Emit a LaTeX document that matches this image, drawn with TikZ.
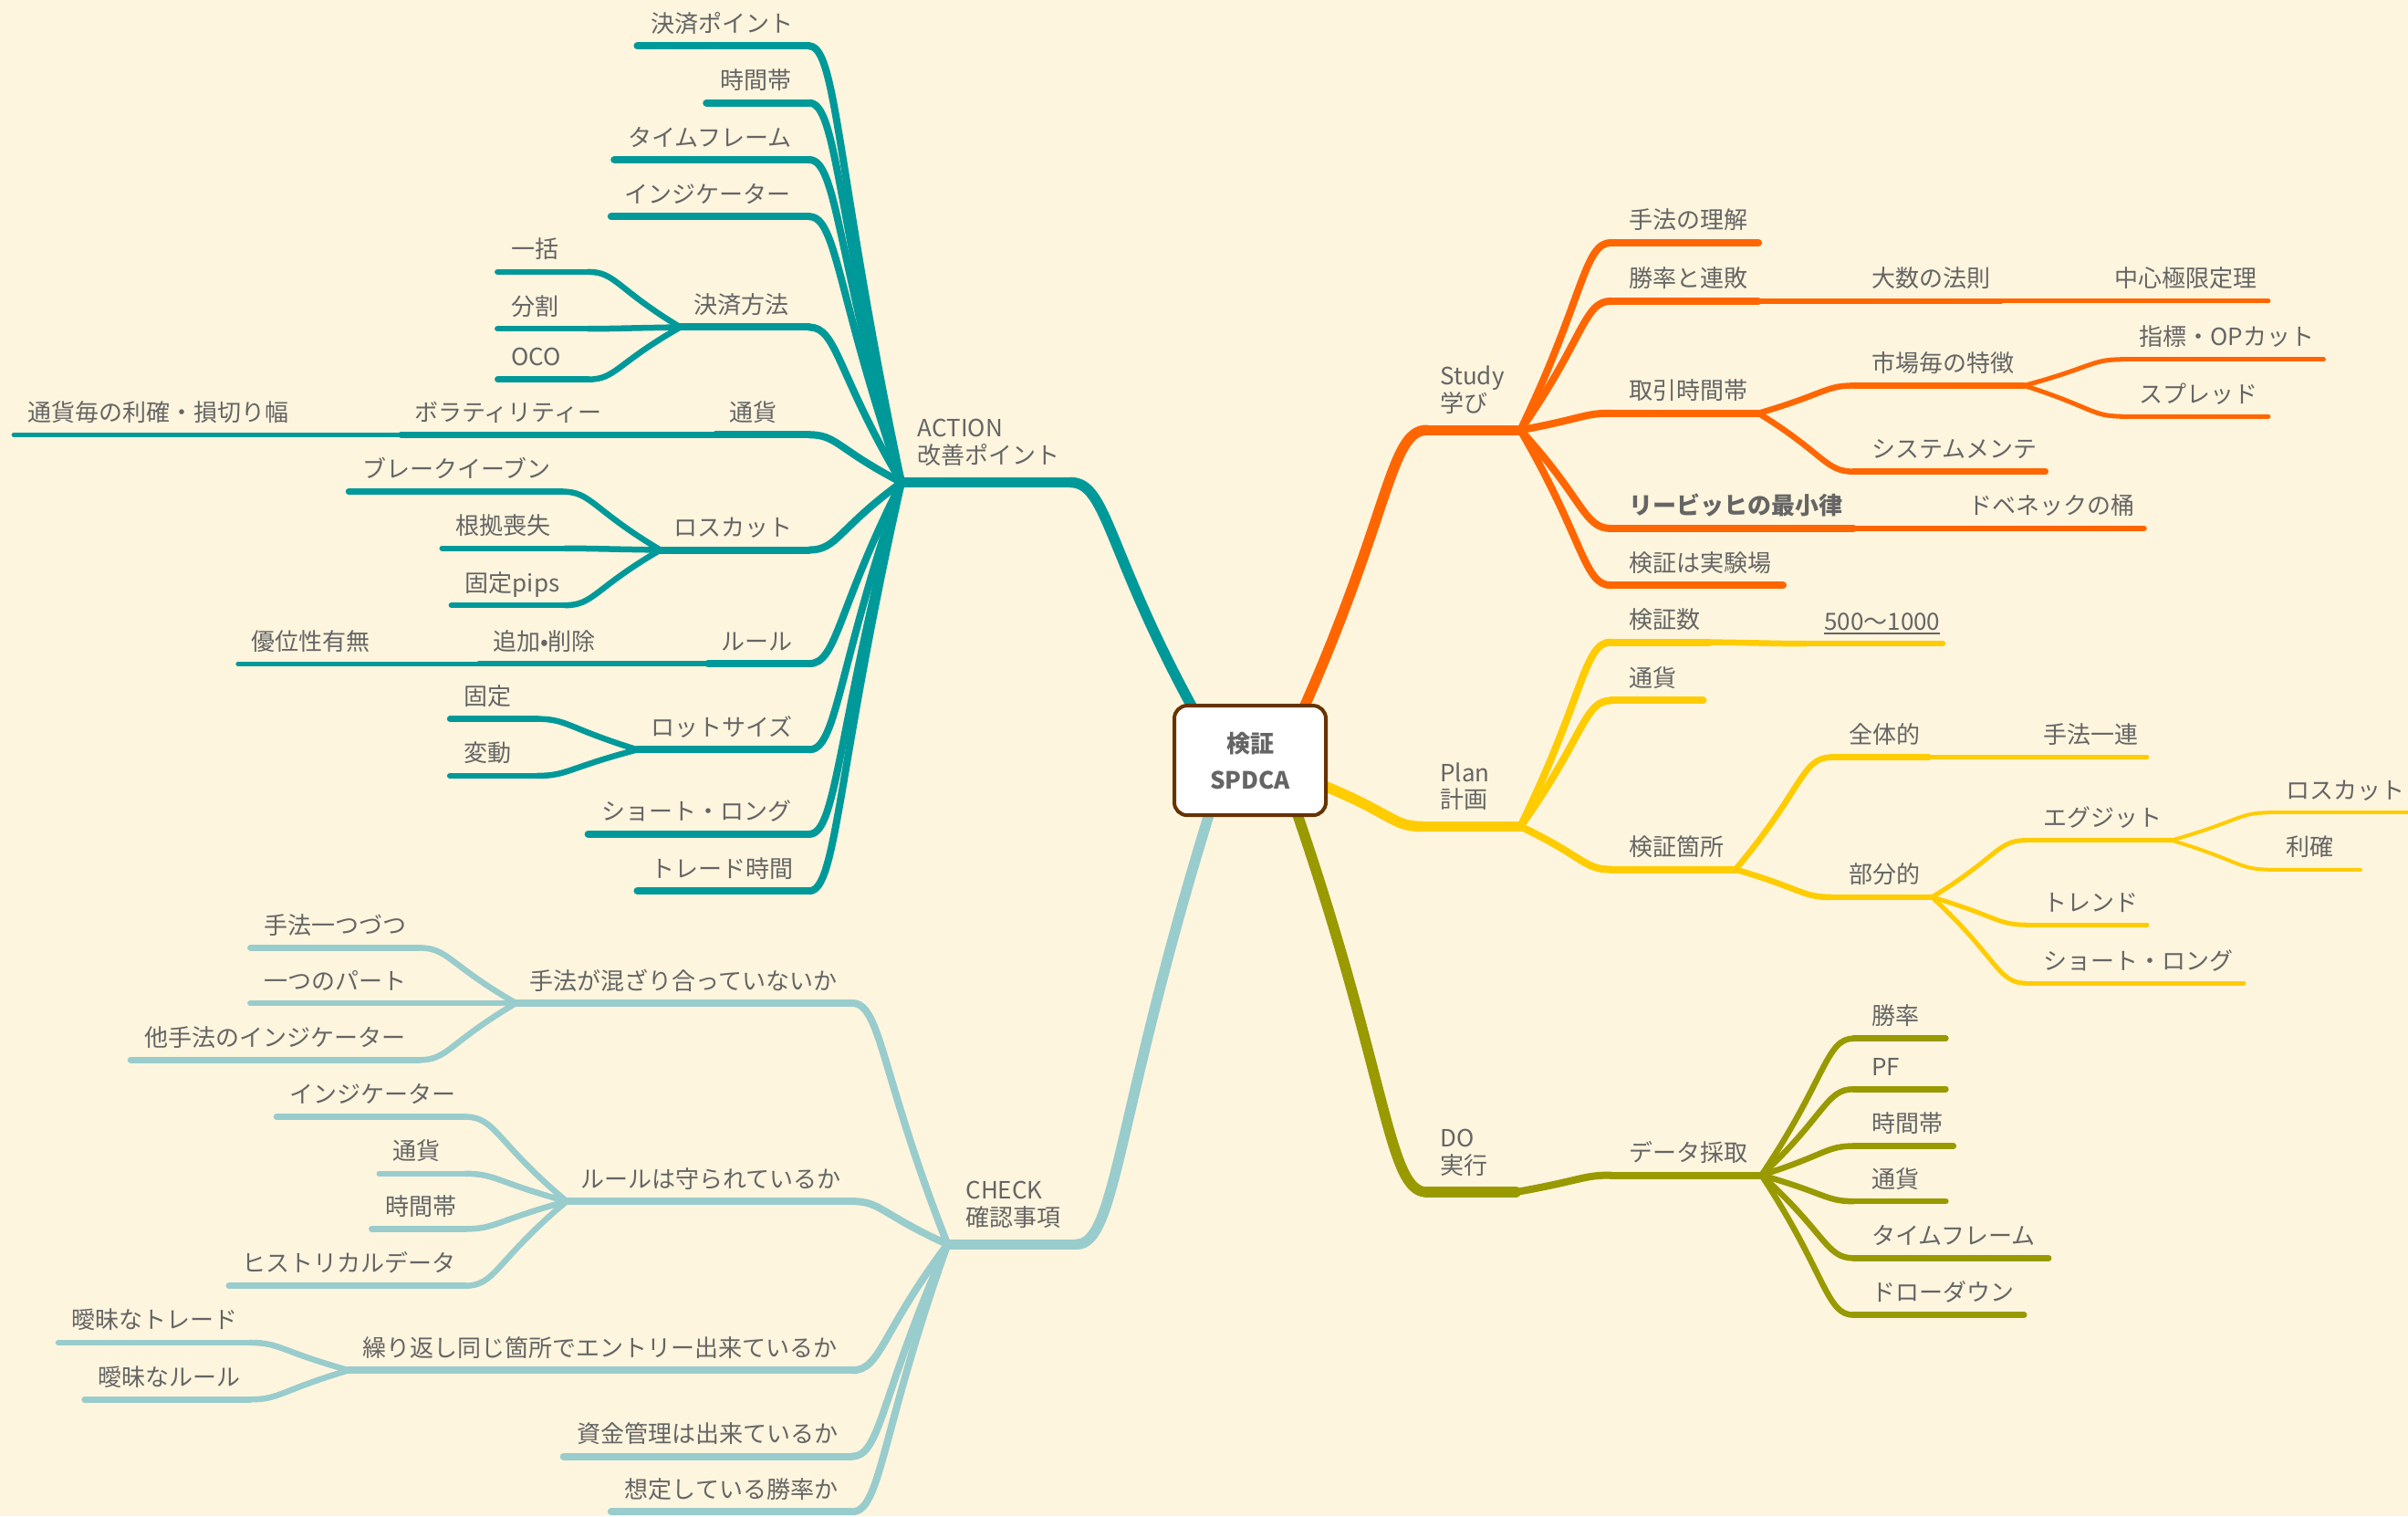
\documentclass[tikz,border=0pt]{standalone}
\usepackage{fontspec}
\setmainfont{Noto Sans CJK JP}
\usetikzlibrary{calc}
\definecolor{bgc}{HTML}{FEF5DE}
\definecolor{txt}{HTML}{656565}
\definecolor{cA}{HTML}{009999}
\definecolor{cS}{HTML}{FF6600}
\definecolor{cP}{HTML}{FFCC00}
\definecolor{cD}{HTML}{999900}
\definecolor{cC}{HTML}{99CCCC}
\definecolor{cB}{HTML}{663300}
\pgfdeclarelayer{bg}
\pgfdeclarelayer{lines}
\pgfsetlayers{bg,lines,main}
\tikzset{
  mm/.style={anchor=south west, inner xsep=0pt, inner ysep=15pt, outer sep=0pt,
    text depth=0pt, text=txt, font=\fontsize{26}{27}\selectfont},
  mmtrunk/.style={mm, inner ysep=19.5pt},
  ln/.style={line cap=round, line join=round},
  w1/.style={ln, line width=11.5pt},
  w2/.style={ln, line width=8pt},
  w3/.style={ln, line width=6.5pt},
  w4/.style={ln, line width=5pt},
  w5/.style={ln, line width=4pt},
  kA/.style={draw=cA}, kS/.style={draw=cS}, kP/.style={draw=cP},
  kD/.style={draw=cD}, kC/.style={draw=cC},
  hub/.style={draw=cB, line width=4pt, fill=white, rounded corners=14pt,
    minimum width=166pt, minimum height=120pt, inner sep=0pt, outer sep=0pt, align=center,
    text=txt, font=\bfseries\fontsize{26}{40}\selectfont}
}
\newcommand\mmc[3]{\draw[#1] let \p1=(#2), \p2=(#3) in (\p1) .. controls ({\x1+0.7*(\x2-(\x1))},{\y1+0.7*(\y2-(\y1))}) and ({\x1+0.7*(\x2-(\x1))},{\y2}) .. (\p2);}
% right-side node: name, parent, x1, x2, y, style, text
\newcommand\RN[7]{%
  \pgfmathsetmacro\mmW{(#4-#3)*1.683}%
  \node[mm] (#1) at (#3,#5) {\makebox[\mmW pt][l]{\kern20pt #7}};%
  \begin{pgfonlayer}{lines}%
    \mmc{#6}{#2.south east}{#1.south west}%
    \draw[#6] (#1.south west) -- (#1.south east);%
  \end{pgfonlayer}}
% left-side node
\newcommand\LN[7]{%
  \pgfmathsetmacro\mmW{(#4-#3)*1.683}%
  \node[mm] (#1) at (#3,#5) {\makebox[\mmW pt][l]{\kern15pt #7}};%
  \begin{pgfonlayer}{lines}%
    \mmc{#6}{#2.south west}{#1.south east}%
    \draw[#6] (#1.south west) -- (#1.south east);%
  \end{pgfonlayer}}
\newcommand\ulnum[1]{\setbox0\hbox{#1}\rlap{\rule[-5pt]{\wd0}{1.8pt}}\box0}
\begin{document}
\begin{tikzpicture}[x=1.683pt, y=-1.683pt]
\useasboundingbox (0,0) rectangle (1568,987);
\begin{pgfonlayer}{bg}
  \fill[bgc] (0,0) rectangle (1568,987);
\end{pgfonlayer}

\node[hub] (center) at (814,495) {検証\\SPDCA};

% ---------- trunks ----------
\pgfmathsetmacro\mmW{(990-929)*1.683}
\node[mmtrunk] (study) at (929,280) {\makebox[\mmW pt][l]{\kern15pt\begin{tabular}[b]{@{}l@{}}Study\\学び\end{tabular}}};
\pgfmathsetmacro\mmW{(990-926)*1.683}
\node[mmtrunk] (plan) at (926,538) {\makebox[\mmW pt][l]{\kern20pt\begin{tabular}[b]{@{}l@{}}Plan\\計画\end{tabular}}};
\pgfmathsetmacro\mmW{(987-929)*1.683}
\node[mmtrunk] (do) at (929,776) {\makebox[\mmW pt][l]{\kern15pt\begin{tabular}[b]{@{}l@{}}DO\\実行\end{tabular}}};
\pgfmathsetmacro\mmW{(697-587)*1.683}
\node[mmtrunk] (action) at (587,314) {\makebox[\mmW pt][l]{\kern18pt\begin{tabular}[b]{@{}l@{}}ACTION\\改善ポイント\end{tabular}}};
\pgfmathsetmacro\mmW{(701-617)*1.683}
\node[mmtrunk] (check) at (617,810) {\makebox[\mmW pt][l]{\kern20pt\begin{tabular}[b]{@{}l@{}}CHECK\\確認事項\end{tabular}}};
\begin{pgfonlayer}{lines}
  \mmc{kS,w1}{center.45}{study.south west}
  \draw[kS,w1] (study.south west) -- (study.south east);
  \mmc{kP,w1}{center.-19}{plan.south west}
  \draw[kP,w1] (plan.south west) -- (plan.south east);
  \mmc{kD,w1}{center.-49}{do.south west}
  \draw[kD,w1] (do.south west) -- (do.south east);
  \mmc{kA,w1}{center.137}{action.south east}
  \draw[kA,w1] (action.south west) -- (action.south east);
  \mmc{kC,w1}{center.-127}{check.south east}
  \draw[kC,w1] (check.south west) -- (check.south east);
\end{pgfonlayer}

% ---------- Study ----------
\RN{s1}{study}{1049}{1145}{158}{kS,w2}{手法の理解}
\RN{s2}{study}{1049}{1145}{196}{kS,w2}{勝率と連敗}
\RN{s21}{s2}{1207}{1303}{196}{kS,w3}{大数の法則}
\RN{s211}{s21}{1365}{1477}{196}{kS,w4}{中心極限定理}
\RN{s3}{study}{1049}{1145}{269}{kS,w2}{取引時間帯}
\RN{s31}{s3}{1207}{1318}{251}{kS,w3}{市場毎の特徴}
\RN{s311}{s31}{1381}{1513}{234}{kS,w4}{指標・OPカット}
\RN{s312}{s31}{1381}{1477}{271}{kS,w4}{スプレッド}
\RN{s32}{s3}{1207}{1332}{307}{kS,w3}{システムメンテ}
\RN{s4}{study}{1049}{1207}{344}{kS,w2}{\textbf{リービッヒの最小律}}
\RN{s41}{s4}{1270}{1396}{344}{kS,w3}{ドベネックの桶}
\RN{s5}{study}{1049}{1161}{381}{kS,w2}{検証は実験場}

% ---------- Plan ----------
\RN{p1}{plan}{1049}{1113}{418}{kP,w2}{検証数}
\RN{p11}{p1}{1176}{1265}{419}{kP,w3}{\ulnum{500〜1000}}
\RN{p2}{plan}{1049}{1109}{456}{kP,w2}{通貨}
\RN{p3}{plan}{1049}{1130}{566}{kP,w2}{検証箇所}
\RN{p31}{p3}{1192}{1256}{493}{kP,w3}{全体的}
\RN{p311}{p31}{1319}{1398}{493}{kP,w4}{手法一連}
\RN{p32}{p3}{1192}{1258}{584}{kP,w3}{部分的}
\RN{p321}{p32}{1319}{1414}{547}{kP,w4}{エグジット}
\RN{p3211}{p321}{1477}{1580}{529}{kP,w5}{ロスカット}
\RN{p3212}{p321}{1477}{1537}{566}{kP,w5}{利確}
\RN{p322}{p32}{1319}{1398}{602}{kP,w4}{トレンド}
\RN{p323}{p32}{1319}{1461}{640}{kP,w4}{ショート・ロング}

% ---------- DO ----------
\RN{d1}{do}{1049}{1147}{765}{kD,w2}{データ採取}
\RN{d11}{d1}{1207}{1267}{676}{kD,w3}{勝率}
\RN{d12}{d1}{1207}{1267}{709}{kD,w3}{PF}
\RN{d13}{d1}{1207}{1272}{746}{kD,w3}{時間帯}
\RN{d14}{d1}{1207}{1267}{782}{kD,w3}{通貨}
\RN{d15}{d1}{1207}{1334}{819}{kD,w3}{タイムフレーム}
\RN{d16}{d1}{1207}{1318}{856}{kD,w3}{ドローダウン}

% ---------- ACTION ----------
\LN{a1}{action}{415}{527}{30}{kA,w2}{決済ポイント}
\LN{a2}{action}{460}{527}{67}{kA,w2}{時間帯}
\LN{a3}{action}{400}{527}{104}{kA,w2}{タイムフレーム}
\LN{a4}{action}{398}{527}{141}{kA,w2}{インジケーター}
\LN{a5}{action}{443}{527}{213}{kA,w2}{決済方法}
\LN{a51}{a5}{324}{383}{177}{kA,w3}{一括}
\LN{a52}{a5}{324}{383}{214}{kA,w3}{分割}
\LN{a53}{a5}{324}{383}{247}{kA,w3}{OCO}
\LN{a6}{action}{466}{527}{283}{kA,w2}{通貨}
\LN{a61}{a6}{261}{405}{283}{kA,w3}{ボラティリティー}
\LN{a611}{a61}{9}{200}{283}{kA,w4}{通貨毎の利確・損切り幅}
\LN{a7}{action}{430}{527}{358}{kA,w2}{ロスカット}
\LN{a71}{a7}{227}{366}{320}{kA,w3}{ブレークイーブン}
\LN{a72}{a7}{288}{368}{357}{kA,w3}{根拠喪失}
\LN{a73}{a7}{294}{368}{394}{kA,w3}{固定pips}
\LN{a8}{action}{461}{527}{432}{kA,w2}{ルール}
\LN{a81}{a8}{312}{402}{432}{kA,w3}{追加•削除}
\LN{a811}{a81}{155}{252}{432}{kA,w4}{優位性有無}
\LN{a9}{action}{415}{527}{488}{kA,w2}{ロットサイズ}
\LN{a91}{a9}{293}{350}{468}{kA,w3}{固定}
\LN{a92}{a9}{293}{350}{505}{kA,w3}{変動}
\LN{a10}{action}{383}{527}{543}{kA,w2}{ショート・ロング}
\LN{a11}{action}{415}{527}{580}{kA,w2}{トレード時間}

% ---------- CHECK ----------
\LN{c1}{check}{336}{555}{653}{kC,w2}{手法が混ざり合っていないか}
\LN{c11}{c1}{163}{273}{617}{kC,w3}{手法一つづつ}
\LN{c12}{c1}{163}{273}{653}{kC,w3}{一つのパート}
\LN{c13}{c1}{85}{273}{690}{kC,w3}{他手法のインジケーター}
\LN{c2}{check}{369}{555}{782}{kC,w2}{ルールは守られているか}
\LN{c21}{c2}{180}{303}{727}{kC,w3}{インジケーター}
\LN{c22}{c2}{247}{303}{764}{kC,w3}{通貨}
\LN{c23}{c2}{242}{303}{800}{kC,w3}{時間帯}
\LN{c24}{c2}{149}{303}{837}{kC,w3}{ヒストリカルデータ}
\LN{c3}{check}{227}{555}{892}{kC,w2}{繰り返し同じ箇所でエントリー出来ているか}
\LN{c31}{c3}{38}{163}{874}{kC,w3}{曖昧なトレード}
\LN{c32}{c3}{55}{163}{911}{kC,w3}{曖昧なルール}
\LN{c4}{check}{367}{555}{948}{kC,w2}{資金管理は出来ているか}
\LN{c5}{check}{398}{555}{984}{kC,w2}{想定している勝率か}
\end{tikzpicture}
\end{document}
